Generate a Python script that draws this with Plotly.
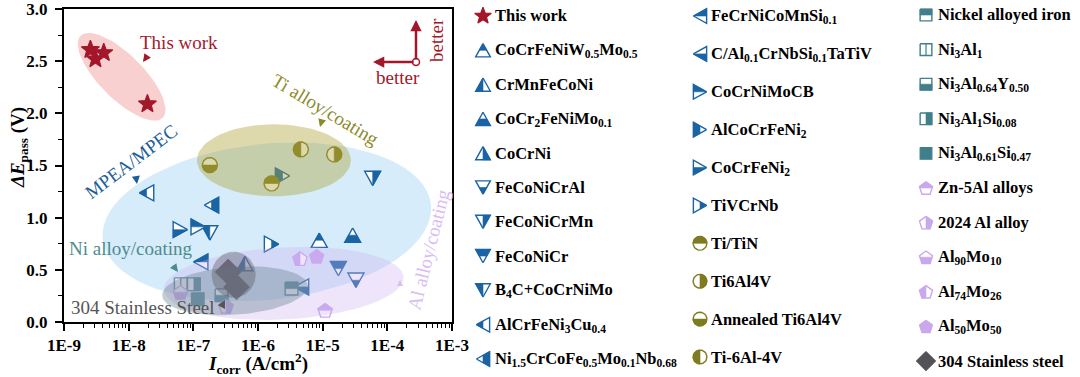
import math
import plotly.graph_objects as go

# ---------------- data ----------------
series_names = [
    "This work", "CoCrFeNiW<sub>0.5</sub>Mo<sub>0.5</sub>", "CrMnFeCoNi",
    "CoCr<sub>2</sub>FeNiMo<sub>0.1</sub>", "CoCrNi", "FeCoNiCrAl", "FeCoNiCrMn",
    "FeCoNiCr", "B<sub>4</sub>C+CoCrNiMo", "AlCrFeNi<sub>3</sub>Cu<sub>0.4</sub>",
    "Ni<sub>1.5</sub>CrCoFe<sub>0.5</sub>Mo<sub>0.1</sub>Nb<sub>0.68</sub>",
    "FeCrNiCoMnSi<sub>0.1</sub>", "C/Al<sub>0.1</sub>CrNbSi<sub>0.1</sub>TaTiV",
    "CoCrNiMoCB", "AlCoCrFeNi<sub>2</sub>", "CoCrFeNi<sub>2</sub>", "TiVCrNb",
    "Ti/TiN", "Ti6Al4V", "Annealed Ti6Al4V", "Ti-6Al-4V",
    "Nickel alloyed iron", "Ni<sub>3</sub>Al<sub>1</sub>", "Ni<sub>3</sub>Al<sub>0.64</sub>Y<sub>0.50</sub>",
    "Ni<sub>3</sub>Al<sub>1</sub>Si<sub>0.08</sub>", "Ni<sub>3</sub>Al<sub>0.61</sub>Si<sub>0.47</sub>",
    "Zn-5Al alloys", "2024 Al alloy", "Al<sub>90</sub>Mo<sub>10</sub>",
    "Al<sub>74</sub>Mo<sub>26</sub>", "Al<sub>50</sub>Mo<sub>50</sub>", "304 Stainless steel",
]
series_shapes = (["star"] + ["tri-up"] * 4 + ["tri-down"] * 4 + ["tri-left"] * 4
                 + ["tri-right"] * 4 + ["circle"] * 4 + ["square"] * 5
                 + ["pentagon"] * 5 + ["diamond"])
series_fills = ["full",
                "top", "left", "bottom", "right",
                "bottom", "right", "top", "left",
                "left", "right", "top", "bottom",
                "top", "left", "bottom", "right",
                "top", "right", "bottom", "left",
                "top", "vline", "bottom", "right", "full",
                "top", "right", "bottom", "left", "full",
                "full"]
series_groups = (["red"] + ["blue"] * 16 + ["olive"] * 4 + ["teal"] * 5 + ["lilac"] * 5 + ["grey"])

# data points: series name, I_corr (A/cm2), dE_pass (V)
point_series = [
    "This work", "This work", "This work", "This work",
    "AlCoCrFeNi<sub>2</sub>", "FeCoNiCrMn", "AlCrFeNi<sub>3</sub>Cu<sub>0.4</sub>",
    "Ni<sub>1.5</sub>CrCoFe<sub>0.5</sub>Mo<sub>0.1</sub>Nb<sub>0.68</sub>",
    "CoCrFeNi<sub>2</sub>", "CoCrNiMoCB", "B<sub>4</sub>C+CoCrNiMo", "TiVCrNb",
    "CoCrFeNiW<sub>0.5</sub>Mo<sub>0.5</sub>", "CoCr<sub>2</sub>FeNiMo<sub>0.1</sub>",
    "FeCrNiCoMnSi<sub>0.1</sub>", "CrMnFeCoNi", "FeCoNiCr", "FeCoNiCrAl",
    "C/Al<sub>0.1</sub>CrNbSi<sub>0.1</sub>TaTiV",
    "Annealed Ti6Al4V", "Ti-6Al-4V", "Ti6Al4V", "Ti/TiN",
    "Ni<sub>3</sub>Al<sub>1</sub>", "Ni<sub>3</sub>Al<sub>1</sub>Si<sub>0.08</sub>",
    "Ni<sub>3</sub>Al<sub>0.61</sub>Si<sub>0.47</sub>", "Ni<sub>3</sub>Al<sub>0.64</sub>Y<sub>0.50</sub>",
    "Nickel alloyed iron",
    "Al<sub>90</sub>Mo<sub>10</sub>", "2024 Al alloy", "Al<sub>74</sub>Mo<sub>26</sub>",
    "Al<sub>50</sub>Mo<sub>50</sub>", "Zn-5Al alloys",
    "304 Stainless steel", "304 Stainless steel",
]
point_icorr = [2.56e-9, 3.06e-9, 4.12e-9, 1.95e-8,
               2.4e-6, 5.94e-5, 1.89e-8, 1.91e-7,
               6.3e-8, 1.19e-7, 1.8e-7, 1.62e-6,
               8.85e-6, 2.91e-5, 1.3e-7, 6.27e-7, 1.75e-5, 3.27e-5, 4.7e-6,
               1.8e-7, 4.6e-6, 1.51e-5, 1.62e-6,
               6.4e-8, 1.02e-7, 1.17e-7, 2.73e-7, 3.3e-6,
               6.3e-8, 3.2e-7, 4.46e-6, 8.07e-6, 1.09e-5,
               3.45e-7, 4.66e-7]
point_epass = [2.61, 2.52, 2.58, 2.09,
               1.40, 1.376, 1.238, 1.12,
               0.885, 0.912, 0.854, 0.746,
               0.784, 0.832, 0.576, 0.56, 0.512, 0.40, 0.336,
               1.504, 1.654, 1.606, 1.328,
               0.362, 0.362, 0.218, 0.256, 0.32,
               0.285, 0.15, 0.608, 0.63, 0.112,
               0.48, 0.336]

x_tick_vals = [1e-9, 1e-8, 1e-7, 1e-6, 1e-5, 1e-4, 1e-3]
x_tick_text = ["1E-9", "1E-8", "1E-7", "1E-6", "1E-5", "1E-4", "1E-3"]
y_tick_vals = [0.0, 0.5, 1.0, 1.5, 2.0, 2.5, 3.0]
y_tick_text = ["0.0", "0.5", "1.0", "1.5", "2.0", "2.5", "3.0"]

# ---------------- layout constants ----------------
W, H = 1080, 377
PX0, PX1, PY0, PY1 = 64, 452, 9, 322
X_RANGE = (-9, -3)
Y_RANGE = (0, 3.0)
PX_PER_DEC = (PX1 - PX0) / (X_RANGE[1] - X_RANGE[0])
PX_PER_Y = (PY1 - PY0) / (Y_RANGE[1] - Y_RANGE[0])
FONT = "Liberation Serif, Times New Roman, serif"

COLORS = {"red": "#a3172a", "blue": "#1b64a4", "olive": "#7e7b20",
          "teal": "#3f7f8b", "lilac": "#c9a8ee", "grey": "#525257"}
SIZES = {"star": 9.5, "tri-up": 8, "tri-down": 8, "tri-left": 8, "tri-right": 8,
         "circle": 7.5, "square": 7.5, "pentagon": 7.5, "diamond": 12.5}


def shape_poly(shape, r):
    if shape == "star":
        pts = []
        for k in range(10):
            a = -math.pi / 2 + k * math.pi / 5
            rr = r if k % 2 == 0 else r * 0.42
            pts.append((rr * math.cos(a), rr * math.sin(a)))
        return pts
    if shape == "tri-up":
        return [(0, -0.9 * r), (r, 0.9 * r), (-r, 0.9 * r)]
    if shape == "tri-down":
        return [(0, 0.9 * r), (r, -0.9 * r), (-r, -0.9 * r)]
    if shape == "tri-left":
        return [(-0.9 * r, 0), (0.9 * r, -r), (0.9 * r, r)]
    if shape == "tri-right":
        return [(0.9 * r, 0), (-0.9 * r, -r), (-0.9 * r, r)]
    if shape == "circle":
        return [(r * math.cos(2 * math.pi * k / 40), r * math.sin(2 * math.pi * k / 40)) for k in range(40)]
    if shape == "square":
        s = 0.85 * r
        return [(-s, -s), (s, -s), (s, s), (-s, s)]
    if shape == "pentagon":
        pts = []
        for k in range(5):
            a = -math.pi / 2 + k * 2 * math.pi / 5
            pts.append((r * math.cos(a), r * math.sin(a) + 0.095 * r))
        return pts
    if shape == "diamond":
        return [(0, -r), (r, 0), (0, r), (-r, 0)]


def clip(poly, side):
    def inside(p):
        x, y = p
        return {"top": y <= 0, "bottom": y >= 0, "left": x <= 0, "right": x >= 0}[side]

    def inter(p, q):
        (x1, y1), (x2, y2) = p, q
        if side in ("top", "bottom"):
            t = (0 - y1) / (y2 - y1)
        else:
            t = (0 - x1) / (x2 - x1)
        return (x1 + t * (x2 - x1), y1 + t * (y2 - y1))

    out = []
    n = len(poly)
    for i in range(n):
        cur, prev = poly[i], poly[i - 1]
        if inside(cur):
            if not inside(prev):
                out.append(inter(prev, cur))
            out.append(cur)
        elif inside(prev):
            out.append(inter(prev, cur))
    return out


def conv_log(xc, yc, pts):
    lx = math.log10(xc)
    return ([10 ** (lx + dx / PX_PER_DEC) for dx, dy in pts],
            [yc - dy / PX_PER_Y for dx, dy in pts])


def conv_px(xc, yc, pts):
    return [xc + dx for dx, dy in pts], [yc + dy for dx, dy in pts]


def glyph_traces(centers, shape, fill, color, r, conv, xa, ya):
    """Return traces drawing half-filled marker glyphs at the given centers."""
    base = shape_poly(shape, r)
    ox, oy, fx, fy, lx_, ly_ = [], [], [], [], [], []
    for (xc, yc) in centers:
        closed = base + [base[0]]
        xs, ys = conv(xc, yc, closed)
        ox += xs + [None]
        oy += ys + [None]
        if fill in ("top", "bottom", "left", "right"):
            part = clip(base, fill)
            part = part + [part[0]]
            xs, ys = conv(xc, yc, part)
            fx += xs + [None]
            fy += ys + [None]
        if fill == "vline":
            seg = [(0, -0.85 * r), (0, 0.85 * r)]
            xs, ys = conv(xc, yc, seg)
            lx_ += xs + [None]
            ly_ += ys + [None]
    tr = []
    common = dict(mode="lines", hoverinfo="skip", showlegend=False, xaxis=xa, yaxis=ya)
    if fill == "full":
        tr.append(go.Scatter(x=ox, y=oy, fill="toself", fillcolor=color,
                             line=dict(color=color, width=1.2), **common))
    else:
        tr.append(go.Scatter(x=ox, y=oy, fill="toself", fillcolor="white",
                             line=dict(color=color, width=1.4), **common))
        if fx:
            tr.append(go.Scatter(x=fx, y=fy, fill="toself", fillcolor=color,
                                 line=dict(color=color, width=0.6), **common))
        if lx_:
            tr.append(go.Scatter(x=lx_, y=ly_, line=dict(color=color, width=1.2), **common))
    return tr


def ellipse_trace(cx, cy, a, b, ang_deg, color):
    t = math.radians(ang_deg)
    pts = []
    for k in range(73):
        th = 2 * math.pi * k / 72
        ex, ey = a * math.cos(th), b * math.sin(th)
        pts.append((ex * math.cos(t) - ey * math.sin(t), ex * math.sin(t) + ey * math.cos(t)))
    xs, ys = conv_log(cx, cy, pts)
    return go.Scatter(x=xs, y=ys, mode="lines", fill="toself", fillcolor=color,
                      line=dict(width=0, color="rgba(0,0,0,0)"), hoverinfo="skip",
                      showlegend=False, xaxis="x", yaxis="y")


fig = go.Figure()

# background ellipses
fig.add_trace(ellipse_trace(1.37e-6, 0.96, 165, 78, -6, "rgba(165,212,245,0.45)"))
fig.add_trace(ellipse_trace(7.8e-9, 2.35, 58, 22, 45, "rgba(240,150,150,0.45)"))

# data glyphs, drawn in series order
for i, name in enumerate(series_names):
    pts = [(x, y) for s, x, y in zip(point_series, point_icorr, point_epass) if s == name]
    if not pts:
        continue
    shp = series_shapes[i]
    for t in glyph_traces(pts, shp, series_fills[i], COLORS[series_groups[i]], SIZES[shp],
                          conv_log, "x", "y"):
        fig.add_trace(t)

# overlay ellipses
fig.add_trace(ellipse_trace(1.76e-6, 1.55, 77, 36, 0, "rgba(175,165,60,0.42)"))
fig.add_trace(ellipse_trace(2.5e-6, 0.37, 120, 36, -3, "rgba(205,175,240,0.32)"))
fig.add_trace(ellipse_trace(4.4e-7, 0.30, 73, 24, -4, "rgba(105,135,145,0.40)"))
fig.add_trace(ellipse_trace(4.2e-7, 0.453, 22, 23, 0, "rgba(90,90,100,0.40)"))

# ---------------- legend (pixel overlay axis) ----------------
col_sizes = [11, 10, 11]
col_glyph_x = [483, 700, 926]
col_text_x = [493, 709, 936]
col_y_first = [16, 16, 15]
col_y_last = [359, 357, 361]
annotations = []
idx = 0
for c in range(3):
    n = col_sizes[c]
    for k in range(n):
        i = idx + k
        yy = col_y_first[c] + (col_y_last[c] - col_y_first[c]) * k / (n - 1)
        shp = series_shapes[i]
        rr = SIZES[shp] * (0.75 if shp == "diamond" else 0.92)
        for t in glyph_traces([(col_glyph_x[c], yy)], shp, series_fills[i],
                              COLORS[series_groups[i]], rr, conv_px, "x2", "y2"):
            fig.add_trace(t)
        annotations.append(dict(x=col_text_x[c] / W, y=1 - yy / H, xref="paper", yref="paper",
                                xanchor="left", yanchor="middle", text=series_names[i],
                                showarrow=False,
                                font=dict(family=FONT, size=16.5, color="black", weight="bold")))
    idx += n

# "better" corner marker
fig.add_trace(go.Scatter(x=[416], y=[62], mode="markers", xaxis="x2", yaxis="y2",
                         marker=dict(symbol="circle", size=7, color="white",
                                     line=dict(color=COLORS["red"], width=1.5)),
                         hoverinfo="skip", showlegend=False))


def lab(text, x, y, color, angle=0, size=19):
    annotations.append(dict(x=x / W, y=1 - y / H, xref="paper", yref="paper", text=text,
                            showarrow=False, textangle=angle, xanchor="center", yanchor="middle",
                            font=dict(family=FONT, size=size, color=color)))


def arrow(tipx, tipy, ax, ay, color, width=2, size=0.8):
    annotations.append(dict(x=tipx / W, y=1 - tipy / H, xref="paper", yref="paper", text="",
                            showarrow=True, ax=ax, ay=ay, arrowhead=2, arrowsize=size,
                            arrowwidth=width, arrowcolor=color))


lab("This work", 179, 43, "#a8182c")
lab("Ti alloy/coating", 325, 110, "#8b8a2a", 31)
lab("MPEA/MPEC", 131, 161, "#1c5e99", -37)
lab("Ni alloy/coating", 130, 249, "#4d8b90")
lab("304 Stainless Steel", 143, 307, "#555555")
lab("Al alloy/coating", 428, 250, "#d9bdf2", -76)
lab("better", 398, 78, COLORS["red"])
lab("better", 436, 40, COLORS["red"], -90)

arrow(143, 62, 5, -7, "#a8182c")
arrow(320, 127, 2, -7, "#8b8a2a")
arrow(137, 184, -1, -7, "#1c5e99")
arrow(178, 272, -6, -8, "#4d8b90")
arrow(225, 300, -4, 8, "#555555")
arrow(400, 280, 0, 6, "#d9bdf2", 1.5)
arrow(373, 62, 42, 0, COLORS["red"], 2.5, 0.9)
arrow(416, 20, 0, 41, COLORS["red"], 2.5, 0.9)

# axis titles
lab("<b><i>ΔE</i><sub>pass</sub> (V)</b>", 19, 148, "black", -90, 19)
lab("<b><i>I</i><sub>corr</sub> (A/cm<sup>2</sup>)</b>", 258, 363, "black", 0, 19)

x_minor = [k * v for v in x_tick_vals[:-1] for k in range(2, 10)]
y_minor = [v + 0.25 for v in y_tick_vals[:-1]]

fig.update_layout(
    width=W, height=H, margin=dict(l=0, r=0, t=0, b=0),
    paper_bgcolor="white", plot_bgcolor="rgba(0,0,0,0)",
    showlegend=False, hovermode=False,
    xaxis=dict(type="log", range=list(X_RANGE), domain=[PX0 / W, PX1 / W], anchor="y",
               showline=True, linecolor="black", linewidth=2, mirror=True,
               ticks="outside", ticklen=7, tickwidth=1.5, tickcolor="black",
               tickvals=x_tick_vals, ticktext=x_tick_text, showgrid=False, zeroline=False,
               tickfont=dict(family=FONT, size=17, color="black", weight="bold"),
               ticklabeloverflow="allow",
               minor=dict(tickvals=x_minor, ticks="outside", ticklen=4, tickwidth=1,
                          tickcolor="black", showgrid=False),
               automargin=False),
    yaxis=dict(range=list(Y_RANGE), domain=[1 - PY1 / H, 1 - PY0 / H], anchor="x",
               showline=True, linecolor="black", linewidth=2, mirror=True,
               ticks="outside", ticklen=7, tickwidth=1.5, tickcolor="black",
               tickvals=y_tick_vals, ticktext=y_tick_text, showgrid=False, zeroline=False,
               tickfont=dict(family=FONT, size=17, color="black", weight="bold"),
               ticklabelstandoff=4, ticklabeloverflow="allow",
               minor=dict(tickvals=y_minor, ticks="outside", ticklen=4, tickwidth=1,
                          tickcolor="black", showgrid=False),
               automargin=False),
    xaxis2=dict(range=[0, W], domain=[0, 1], anchor="y2", visible=False, fixedrange=True),
    yaxis2=dict(range=[H, 0], domain=[0, 1], anchor="x2", visible=False, fixedrange=True),
    annotations=annotations,
)

fig.write_html("out.html", config={"displayModeBar": False},
               post_script="document.body.style.margin='0px';")
